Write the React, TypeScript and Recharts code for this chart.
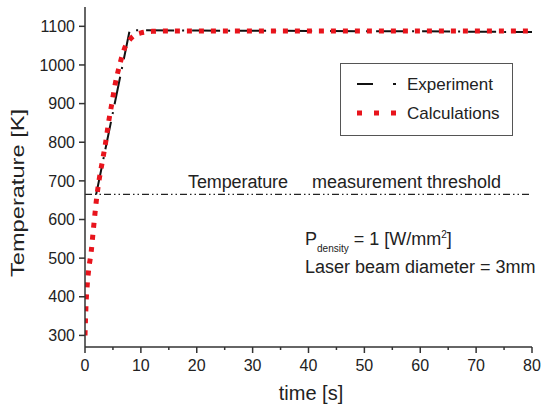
import { LineChart, Line, XAxis, YAxis, ReferenceLine, Legend } from 'recharts';

// calculated curve (time s, temperature K)
const calcTime = [0, 0.2, 0.4, 0.7, 1.1, 1.4, 1.7, 2.0, 2.5, 3.1, 3.7, 4.2, 4.8, 5.4, 6.2, 7.0, 8.0, 9.0, 10, 12, 15, 20, 30, 40, 50, 60, 70, 80];
const calcTemp = [300, 385, 430, 475, 515, 560, 603, 645, 700, 750, 800, 850, 900, 950, 1000, 1040, 1065, 1078, 1083, 1087, 1088, 1088, 1088, 1088, 1088, 1088, 1088, 1088];

// measured curve
const expTime = [2, 8, 20, 40, 60, 80];
const expTemp = [665, 1090, 1089, 1088, 1087, 1085];

const threshold = 665;
const xTicks = [0, 5, 10, 15, 20, 25, 30, 35, 40, 45, 50, 55, 60, 65, 70, 75, 80];
const yTicks = [300, 400, 500, 600, 700, 800, 900, 1000, 1100];

const calcData = calcTime.map((t, i) => ({ t, v: calcTemp[i] }));
const expData = expTime.map((t, i) => ({ t, v: expTemp[i] }));

const FONT = '"Liberation Sans", Arial, sans-serif';
const AXIS = '#333';

function XTick(props: any) {
  const { x, y, payload } = props;
  const major = payload.value % 10 === 0;
  return (
    <g>
      <line x1={x} x2={x} y1={y} y2={y + (major ? 6 : 3)} stroke={AXIS} strokeWidth={1.5} />
      {major && (
        <text x={x} y={y + 24} textAnchor="middle" fontSize={16} fill="#222" fontFamily={FONT}>
          {payload.value}
        </text>
      )}
    </g>
  );
}

function LegendBox() {
  return (
    <svg width={173} height={73} style={{ display: 'block' }}>
      <rect x={0.5} y={0.5} width={172} height={72} fill="#fff" stroke="#555" strokeWidth={1} />
      <line x1={17} x2={33} y1={21} y2={21} stroke="#111" strokeWidth={2} />
      <line x1={53} x2={56} y1={21} y2={21} stroke="#111" strokeWidth={2} />
      <text x={67} y={27} fontSize={17} fill="#222" fontFamily={FONT}>Experiment</text>
      <line x1={17} x2={56} y1={50} y2={50} stroke="#e8141c" strokeWidth={5} strokeDasharray="5 12" />
      <text x={67} y={56} fontSize={17} fill="#222" fontFamily={FONT}>Calculations</text>
    </svg>
  );
}

export default function App() {
  return (
    <div style={{ position: 'absolute', left: 0, top: 0, background: '#fff' }}>
      <LineChart width={542} height={410} margin={{ top: 7, right: 10, left: 0, bottom: 0 }}>
        <XAxis
          type="number"
          dataKey="t"
          domain={[0, 80]}
          ticks={xTicks}
          interval={0}
          allowDataOverflow
          height={63}
          stroke={AXIS}
          strokeWidth={1.5}
          tickLine={false}
          tickSize={0}
          tickMargin={0}
          tick={<XTick />}
        />
        <YAxis
          type="number"
          domain={[270, 1150]}
          ticks={yTicks}
          interval={0}
          allowDataOverflow
          width={85}
          stroke={AXIS}
          strokeWidth={1.5}
          tickSize={6}
          tickMargin={4}
          tick={{ fontSize: 16, fill: '#222', fontFamily: FONT }}
        />
        <ReferenceLine y={threshold} stroke="#222" strokeWidth={1.3} strokeDasharray="7 3 1.5 3 1.5 3" />
        <Line
          data={expData}
          dataKey="v"
          type="linear"
          stroke="#111"
          strokeWidth={2}
          strokeDasharray="28 8 2 8"
          dot={false}
          isAnimationActive={false}
        />
        <Line
          data={calcData}
          dataKey="v"
          type="monotone"
          stroke="#e8141c"
          strokeWidth={5}
          strokeDasharray="5 7"
          dot={false}
          isAnimationActive={false}
        />
        <Legend
          layout="horizontal"
          verticalAlign="middle"
          align="center"
          content={() => <LegendBox />}
          wrapperStyle={{ position: 'absolute', left: 340, top: 63, width: 173, height: 73 }}
        />
        <text x={188} y={188} fontSize={18} fill="#222" fontFamily={FONT} textLength={100}>Temperature</text>
        <text x={312} y={188} fontSize={18} fill="#222" fontFamily={FONT}>measurement threshold</text>
        <text x={305} y={245} fontSize={18} fill="#222" fontFamily={FONT}>
          P<tspan fontSize={10} dy={7}>density</tspan>
          <tspan dy={-7}> = 1 [W/mm</tspan>
          <tspan fontSize={10} dy={-7}>2</tspan>
          <tspan dy={7}>]</tspan>
        </text>
        <text x={305} y={273} fontSize={18} fill="#222" fontFamily={FONT}>Laser beam diameter = 3mm</text>
        <text x={311} y={400} fontSize={20} fill="#222" fontFamily={FONT} textAnchor="middle">time [s]</text>
        <text
          x={24}
          y={193}
          fontSize={19}
          fill="#222"
          fontFamily={FONT}
          textAnchor="middle"
          textLength={168}
          lengthAdjust="spacingAndGlyphs"
          transform="rotate(-90 24 193)"
        >
          Temperature [K]
        </text>
      </LineChart>
    </div>
  );
}
